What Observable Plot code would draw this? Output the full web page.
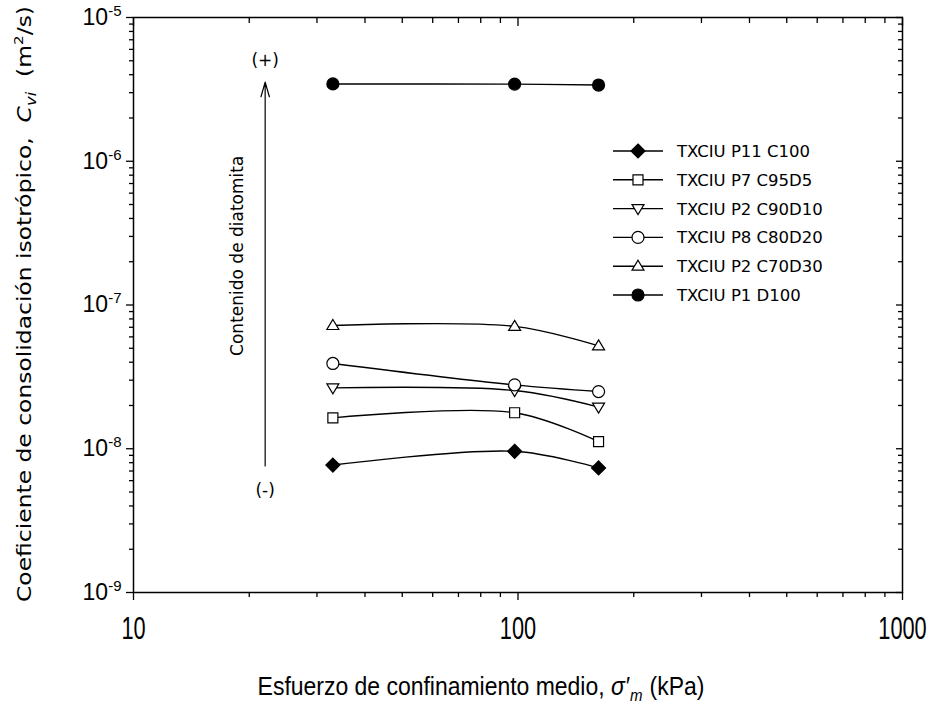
<!DOCTYPE html>
<html><head><meta charset="utf-8">
<script src="https://cdn.jsdelivr.net/npm/d3@7"></script>
<script src="https://cdn.jsdelivr.net/npm/@observablehq/plot@0.6"></script>
<style>
body{margin:0;background:#fff}
#chart{position:relative;width:935px;height:705px}
</style>
</head><body><div id="chart"></div>
<script>
// ---- data ----
const pressure = [33, 98, 162]; // kPa
const seriesNames = ["TXCIU P11 C100","TXCIU P7 C95D5","TXCIU P2 C90D10","TXCIU P8 C80D20","TXCIU P2 C70D30","TXCIU P1 D100"];
const cvC100   = [7.7e-9, 9.6e-9, 7.35e-9];
const cvC95D5  = [1.64e-8, 1.78e-8, 1.12e-8];
const cvC90D10 = [2.65e-8, 2.54e-8, 1.95e-8];
const cvC80D20 = [3.92e-8, 2.78e-8, 2.50e-8];
const cvC70D30 = [7.2e-8, 7.1e-8, 5.2e-8];
const cvD100   = [3.45e-6, 3.44e-6, 3.39e-6];
const seriesValues = [cvC100, cvC95D5, cvC90D10, cvC80D20, cvC70D30, cvD100];

const xMajor = [10, 100, 1000];
const xMinor = [20,30,40,50,60,70,80,90,200,300,400,500,600,700,800,900];
const yMajor = [1e-9, 1e-8, 1e-7, 1e-6, 1e-5];
const yMinor = [2e-9,3e-9,4e-9,5e-9,6e-9,7e-9,8e-9,9e-9,
                2e-8,3e-8,4e-8,5e-8,6e-8,7e-8,8e-8,9e-8,
                2e-7,3e-7,4e-7,5e-7,6e-7,7e-7,8e-7,9e-7,
                2e-6,3e-6,4e-6,5e-6,6e-6,7e-6,8e-6,9e-6];

// annotation (arrow of diatomite content)
const arrowData = [{x: 22, y1: 7.6e-9, y2: 3.55e-6}];
const noteData = [
  {x: 22, y: 5.0e-6, text: "(+)"},
  {x: 22, y: 5.1e-9, text: "(-)"}
];
const sideNote = [{x: 18.6, y: 2.2e-7, text: "Contenido de diatomita"}];

// ---- symbols ----
const symDiamond = {draw(c){const r=7;c.moveTo(0,-r);c.lineTo(r,0);c.lineTo(0,r);c.lineTo(-r,0);c.closePath();}};
const symSquare  = {draw(c){const r=5;c.rect(-r,-r,2*r,2*r);}};
const symTriDown = {draw(c){c.moveTo(-6,-4);c.lineTo(6,-4);c.lineTo(0,6);c.closePath();}};
const symCircle  = {draw(c){const r=6;c.moveTo(r,0);c.arc(0,0,r,0,2*Math.PI);c.closePath();}};
const symTriUp   = {draw(c){c.moveTo(0,-6);c.lineTo(6,4);c.lineTo(-6,4);c.closePath();}};
const symDot     = {draw(c){const r=6;c.moveTo(r,0);c.arc(0,0,r,0,2*Math.PI);c.closePath();}};
const seriesSymbols = [symDiamond, symSquare, symTriDown, symCircle, symTriUp, symDot];
const seriesFills = ["black","white","white","white","white","black"];

const rows = seriesNames.flatMap((s, i) => pressure.map((p, j) => ({series: s, p, cv: seriesValues[i][j]})));

const tickStyle = {stroke: "black", strokeWidth: 1.3, label: null};

const plot = Plot.plot({
  width: 935, height: 705,
  marginLeft: 133, marginRight: 33, marginTop: 17, marginBottom: 113,
  style: {background: "white", color: "black", fontFamily: "'Liberation Sans', Arial, sans-serif"},
  x: {type: "log", domain: [10, 1000]},
  y: {type: "log", domain: [1e-9, 1e-5]},
  marks: [
    Plot.axisX({...tickStyle, anchor: "bottom", ticks: xMajor, tickSize: 8, tickPadding: 16, tickFormat: d => String(d), fill: "black"}),
    Plot.axisX({...tickStyle, anchor: "bottom", ticks: xMinor, tickSize: 5, fill: "none"}),
    Plot.axisX({...tickStyle, anchor: "top", ticks: xMajor, tickSize: -8, fill: "none"}),
    Plot.axisX({...tickStyle, anchor: "top", ticks: xMinor, tickSize: -5, fill: "none"}),
    Plot.axisY({...tickStyle, anchor: "left", ticks: yMajor, tickSize: 7, tickPadding: 5, tickFormat: d => "10|" + Math.round(Math.log10(d)), fill: "black"}),
    Plot.axisY({...tickStyle, anchor: "left", ticks: yMinor, tickSize: 4, fill: "none"}),
    Plot.axisY({...tickStyle, anchor: "right", ticks: yMajor, tickSize: -7, fill: "none"}),
    Plot.axisY({...tickStyle, anchor: "right", ticks: yMinor, tickSize: -5, fill: "none"}),
    Plot.frame({stroke: "black", strokeWidth: 1.5}),
    Plot.arrow(arrowData, {x: "x", y1: "y1", y2: "y2", stroke: "black", strokeWidth: 1.2, headAngle: 32, headLength: 19}),
    Plot.text(noteData, {x: "x", y: "y", text: "text", fontSize: 17, fill: "black", fontFamily: "'DejaVu Sans', sans-serif"}),
    Plot.text(sideNote, {x: "x", y: "y", text: "text", rotate: -90, fontSize: 17, fill: "black", fontFamily: "'DejaVu Sans', sans-serif"}),
    Plot.line(rows, {x: "p", y: "cv", z: "series", curve: "catmull-rom", stroke: "black", strokeWidth: 1.4}),
    ...seriesNames.map((s, i) => Plot.dot(rows.filter(r => r.series === s), {
      x: "p", y: "cv", symbol: seriesSymbols[i], fill: seriesFills[i], stroke: "black", strokeWidth: 1.2, r: 5
    }))
  ]
});

const chart = document.getElementById("chart");
chart.appendChild(plot);
const svg = d3.select(plot);

// y tick labels: 10 with superscript exponent
svg.selectAll('[aria-label="y-axis tick label"] text').each(function(){
  const t = this.textContent;
  if (!t.includes("|")) return;
  const [b, e] = t.split("|");
  const sel = d3.select(this);
  sel.style("font-size", "23px");
  sel.text(null);
  sel.append("tspan").text(b);
  sel.append("tspan").attr("dy", "-0.6em").style("font-size", "15px").text(e);
});

// condensed, larger x tick labels (wrap each in a horizontally scaled group)
svg.selectAll('[aria-label="x-axis tick label"] text').each(function(){
  this.style.fontSize = "32px";
  const bb = this.getBBox();
  let cx = bb.x + bb.width / 2;
  const ctm = this.getAttribute("transform");
  if (ctm) { const m = /translate\(([-\d.]+)/.exec(ctm); if (m) cx += +m[1]; }
  const g = document.createElementNS("http://www.w3.org/2000/svg", "g");
  g.setAttribute("transform", `translate(${cx},0) scale(0.68,1) translate(${-cx},0)`);
  this.parentNode.insertBefore(g, this);
  g.appendChild(this);
});

// y-axis title
const yt = svg.append("text")
  .attr("transform", "translate(31,304) rotate(-90)")
  .attr("text-anchor", "middle")
  .attr("font-family", "'DejaVu Sans', sans-serif")
  .style("font-size", "20px").attr("fill", "black");
yt.append("tspan").text("Coeficiente de consolidación isotrópico,  ");
yt.append("tspan").attr("font-style", "italic").text("C");
yt.append("tspan").attr("font-style", "italic").style("font-size", "14px").attr("dy", 5).text("vi");
yt.append("tspan").attr("dy", -5).text("  (m");
yt.append("tspan").style("font-size", "13px").attr("dy", -8).text("2");
yt.append("tspan").attr("dy", 8).text("/s)");
yt.attr("textLength", 596).attr("lengthAdjust", "spacingAndGlyphs");

// x-axis title (condensed via group scaling)
const xg = svg.append("g");
const xt = xg.append("text")
  .attr("x", 0).attr("y", 0)
  .attr("text-anchor", "middle")
  .attr("font-family", "'Liberation Sans', Arial, sans-serif")
  .style("font-size", "26px").attr("fill", "black");
xt.append("tspan").text("Esfuerzo de confinamiento medio, ");
xt.append("tspan").attr("font-style", "italic").text("σ′");
xt.append("tspan").attr("font-style", "italic").style("font-size", "17px").attr("dx", 1).attr("dy", 6).text("m");
xt.append("tspan").attr("dx", 8).attr("dy", -6).text("(kPa)");
const xw = xt.node().getBBox().width;
xg.attr("transform", `translate(481,695) scale(${447 / xw},1)`);

// legend
const lg = svg.append("g").attr("aria-label", "legend");
seriesNames.forEach((s, i) => {
  const y = 151 + i * 28.8;
  lg.append("line").attr("x1", 613).attr("x2", 663).attr("y1", y).attr("y2", y).attr("stroke", "black").attr("stroke-width", 1.4);
  const p = d3.path(); seriesSymbols[i].draw(p);
  lg.append("path").attr("d", p.toString()).attr("transform", `translate(638,${y})`)
    .attr("fill", seriesFills[i]).attr("stroke", "black").attr("stroke-width", 1.2);
  lg.append("text").attr("x", 677).attr("y", y).attr("dy", "0.36em")
    .attr("text-anchor", "start")
    .attr("font-family", "'DejaVu Sans', sans-serif").style("font-size", "16.5px").attr("fill", "black").text(s);
});
</script>
</body></html>
